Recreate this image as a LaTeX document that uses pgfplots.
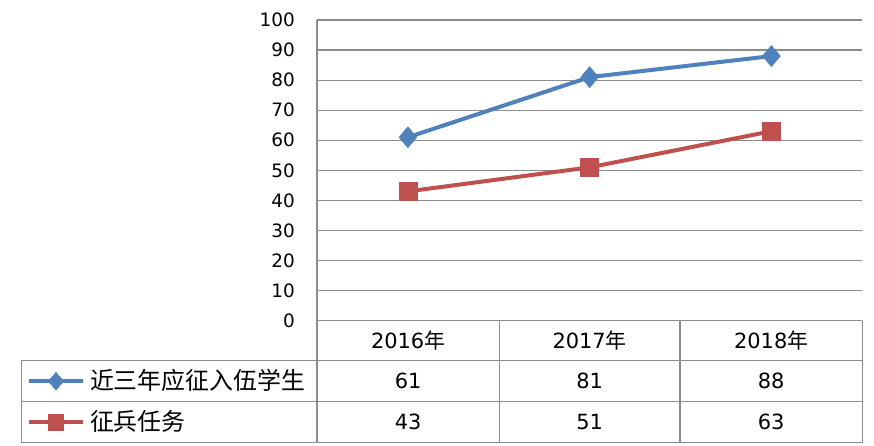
\documentclass[border=0pt]{standalone}
\usepackage{fontspec}
\setmainfont{DejaVu Sans}
\newfontfamily\cjk{Noto Sans CJK SC}
\usepackage{pgfplots}
\pgfplotsset{compat=1.18}
\definecolor{sblue}{HTML}{4F81BD}
\definecolor{sred}{HTML}{C0504D}
\definecolor{gridgray}{HTML}{8C8C8C}
\newcommand\tf{\fontsize{21}{21}\selectfont}
\begin{document}
\begin{tikzpicture}[x=1bp,y=1bp]
\path[use as bounding box] (-317,-125.3) rectangle (557,320.7);
\begin{axis}[at={(0,0)}, anchor=south west, scale only axis,
  width=545.3bp, height=300.7bp,
  xmin=0, xmax=3, ymin=0, ymax=100,
  ytick={0,10,...,100}, xtick=\empty,
  axis x line*=bottom, axis y line*=left,
  x axis line style={draw=none},
  y axis line style={gridgray, line width=1.2bp},
  ymajorgrids, grid style={gridgray, line width=1.2bp},
  major tick length=0pt,
  /pgf/number format/assume math mode=true,
  yticklabel style={font=\fontsize{18.5}{18.5}\selectfont, anchor=east, inner sep=0pt, xshift=-22bp, text=black},
  clip=false,
  legend cell align=left,
  legend style={at={(axis description cs:-0.5318,-0.2694)}, anchor=west,
    draw=none, fill=none, inner sep=0pt, outer sep=0pt,
    row sep=20bp, column sep=5bp,
    nodes={inner sep=0pt, text height=19bp, text depth=2bp, font=\cjk\fontsize{24}{24}\selectfont}},
  legend image code/.code={\draw[#1, mark repeat=2, mark phase=2, every mark/.append style={scale=0.85}] plot coordinates {(0bp,0bp)(27bp,0bp)(54bp,0bp)};},
]
\addplot[sblue, line width=4bp, mark=diamond*, mark size=10.5bp, mark options={solid, xscale=1.13, line width=0.5bp}]
  coordinates {(0.5,61)(1.5,81)(2.5,88)};
\addlegendentry{近三年应征入伍学生}
\addplot[sred, line width=4bp, mark=square*, mark size=9bp, mark options={solid, line width=0.5bp}]
  coordinates {(0.5,43)(1.5,51)(2.5,63)};
\addlegendentry{征兵任务}
\end{axis}
% data table grid
\begin{scope}[gridgray, line width=1.2bp]
\draw (0,0) -- (0,-122);
\draw (182.3,0) -- (182.3,-122);
\draw (363,0) -- (363,-122);
\draw (545.3,0) -- (545.3,-122);
\draw (-295.3,-40) rectangle (545.3,-122);
\draw (-295.3,-81) -- (545.3,-81);
\end{scope}
\node[font=\tf] at (91.15,-20) {2016{\cjk 年}};
\node[font=\tf] at (272.6,-20) {2017{\cjk 年}};
\node[font=\tf] at (454.2,-20) {2018{\cjk 年}};
\node[font=\tf] at (91.15,-60.5) {61};
\node[font=\tf] at (272.6,-60.5) {81};
\node[font=\tf] at (454.2,-60.5) {88};
\node[font=\tf] at (91.15,-101.5) {43};
\node[font=\tf] at (272.6,-101.5) {51};
\node[font=\tf] at (454.2,-101.5) {63};
\end{tikzpicture}
\end{document}
